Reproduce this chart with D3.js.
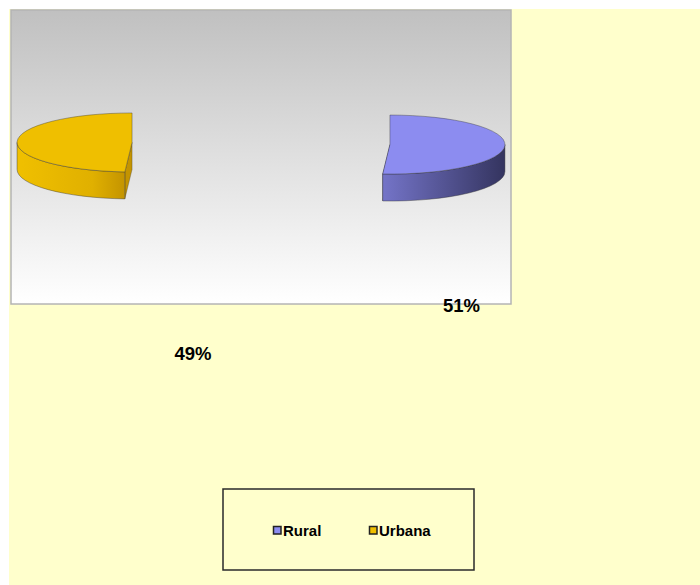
<!DOCTYPE html>
<html>
<head>
<meta charset="utf-8">
<script src="https://cdn.jsdelivr.net/npm/d3@7"></script>
<style>
  body { margin: 0; background: #fff; }
  svg { display: block; font-family: "Liberation Sans", Arial, sans-serif; }
</style>
</head>
<body>
<script>
// data
var categories = ["Rural", "Urbana"];
var values = [51, 49];
var valueLabels = ["51%", "49%"];

// look
var topColors = ["#8c8cf0", "#efbf00"];
var sideLight = ["#7474c8", "#f0c000"];
var sideDark = ["#34345f", "#c49400"];

var width = 700, height = 585;

var svg = d3.select("body").append("svg")
    .attr("width", width)
    .attr("height", height);

var defs = svg.append("defs");

// plot area gradient (grey on top -> white at bottom)
var bg = defs.append("linearGradient")
    .attr("id", "plotGrad")
    .attr("x1", 0).attr("y1", 0).attr("x2", 0).attr("y2", 1);
bg.append("stop").attr("offset", "0%").attr("stop-color", "#c0c0c0");
bg.append("stop").attr("offset", "100%").attr("stop-color", "#ffffff");

// side gradients per slice
categories.forEach(function(c, i) {
    var g = defs.append("linearGradient")
        .attr("id", "side" + i)
        .attr("x1", 0).attr("y1", 0).attr("x2", 1).attr("y2", 0);
    if (i == 0) {
        g.append("stop").attr("offset", "0%").attr("stop-color", sideLight[i]);
        g.append("stop").attr("offset", "100%").attr("stop-color", sideDark[i]);
    } else {
        g.append("stop").attr("offset", "0%").attr("stop-color", sideLight[i]);
        g.append("stop").attr("offset", "70%").attr("stop-color", "#e0b000");
        g.append("stop").attr("offset", "100%").attr("stop-color", sideDark[i]);
    }
});

// chart background
svg.append("rect")
    .attr("x", 9).attr("y", 9)
    .attr("width", width - 9).attr("height", height - 9)
    .attr("fill", "#ffffcc");

// plot area
svg.append("rect")
    .attr("x", 11).attr("y", 10)
    .attr("width", 500).attr("height", 294)
    .attr("fill", "url(#plotGrad)")
    .attr("stroke", "#b4b4b4")
    .attr("stroke-width", 1.5);

// 3d pie geometry
var cx = 261, cy = 143.5;
var rx = 115, ry = 29.5, depth = 27;
var explode = 129;

var pie = d3.pie().sort(null).value(function(d) { return d; });
var arcs = pie(values);

function pt(c, a) {
    return [c[0] + rx * Math.sin(a), c[1] - ry * Math.cos(a)];
}

arcs.forEach(function(d) {
    var mid = (d.startAngle + d.endAngle) / 2;
    d.center = [cx + explode * Math.sin(mid), cy - explode * (ry / rx) * Math.cos(mid)];
});

function topPath(d) {
    var p0 = pt(d.center, d.startAngle), p1 = pt(d.center, d.endAngle);
    var large = (d.endAngle - d.startAngle) > Math.PI ? 1 : 0;
    return "M" + d.center + "L" + p0 + "A" + rx + "," + ry + " 0 " + large + " 1 " + p1 + "Z";
}

function sidePath(d) {
    var a = Math.max(d.startAngle, Math.PI / 2);
    var b = Math.min(d.endAngle, 3 * Math.PI / 2);
    if (b <= a) return null;
    var p0 = pt(d.center, a), p1 = pt(d.center, b);
    return "M" + p0 + "A" + rx + "," + ry + " 0 0 1 " + p1 +
        "L" + p1[0] + "," + (p1[1] + depth) +
        "A" + rx + "," + ry + " 0 0 0 " + p0[0] + "," + (p0[1] + depth) + "Z";
}

function cutPath(d, a) {
    var p = pt(d.center, a);
    return "M" + d.center + "L" + p + "L" + p[0] + "," + (p[1] + depth) +
        "L" + d.center[0] + "," + (d.center[1] + depth) + "Z";
}

var slices = svg.selectAll(".slice")
    .data(arcs)
    .enter().append("g")
    .attr("class", "slice");

// radial cut faces
slices.append("path")
    .attr("d", function(d) { return cutPath(d, d.index == 0 ? d.endAngle : d.startAngle); })
    .attr("fill", function(d, i) { return sideDark[i]; })
    .attr("stroke", "#333")
    .attr("stroke-opacity", 0.5)
    .attr("stroke-width", 0.6);

// outer walls
slices.append("path")
    .attr("d", sidePath)
    .attr("fill", function(d, i) { return "url(#side" + i + ")"; })
    .attr("stroke", "#333")
    .attr("stroke-opacity", 0.6)
    .attr("stroke-width", 0.7);

// top faces
slices.append("path")
    .attr("d", topPath)
    .attr("fill", function(d, i) { return topColors[i]; })
    .attr("stroke", "#333")
    .attr("stroke-opacity", 0.55)
    .attr("stroke-width", 0.7);

// data labels (offset from each slice centre)
var labelOffset = [[71.5, 167], [61, 218]];
svg.selectAll(".vlabel")
    .data(arcs)
    .enter().append("text")
    .attr("class", "vlabel")
    .attr("x", function(d, i) { return d.center[0] + labelOffset[i][0]; })
    .attr("y", function(d, i) { return d.center[1] + labelOffset[i][1]; })
    .attr("text-anchor", "middle")
    .style("font-size", "18.5px")
    .style("font-weight", "bold")
    .text(function(d, i) { return valueLabels[i]; });

// legend
var legend = svg.append("g");
legend.append("rect")
    .attr("x", 223).attr("y", 489)
    .attr("width", 251).attr("height", 81)
    .attr("fill", "#ffffcc")
    .attr("stroke", "#2a2a2a")
    .attr("stroke-width", 1.5);

var legX = d3.scalePoint().domain(categories).range([273, 369]);

var item = legend.selectAll(".item")
    .data(categories)
    .enter().append("g")
    .attr("class", "item")
    .attr("transform", function(d) { return "translate(" + legX(d) + ",526)"; });

item.append("rect")
    .attr("x", 0.5).attr("y", 0.5)
    .attr("width", 7.5).attr("height", 7.5)
    .attr("fill", function(d, i) { return topColors[i]; })
    .attr("stroke", "#222")
    .attr("stroke-width", 1.5);

item.append("text")
    .attr("x", 10)
    .attr("y", 9.5)
    .style("font-size", "15px")
    .style("font-weight", "bold")
    .text(function(d) { return d; });
</script>
</body>
</html>
